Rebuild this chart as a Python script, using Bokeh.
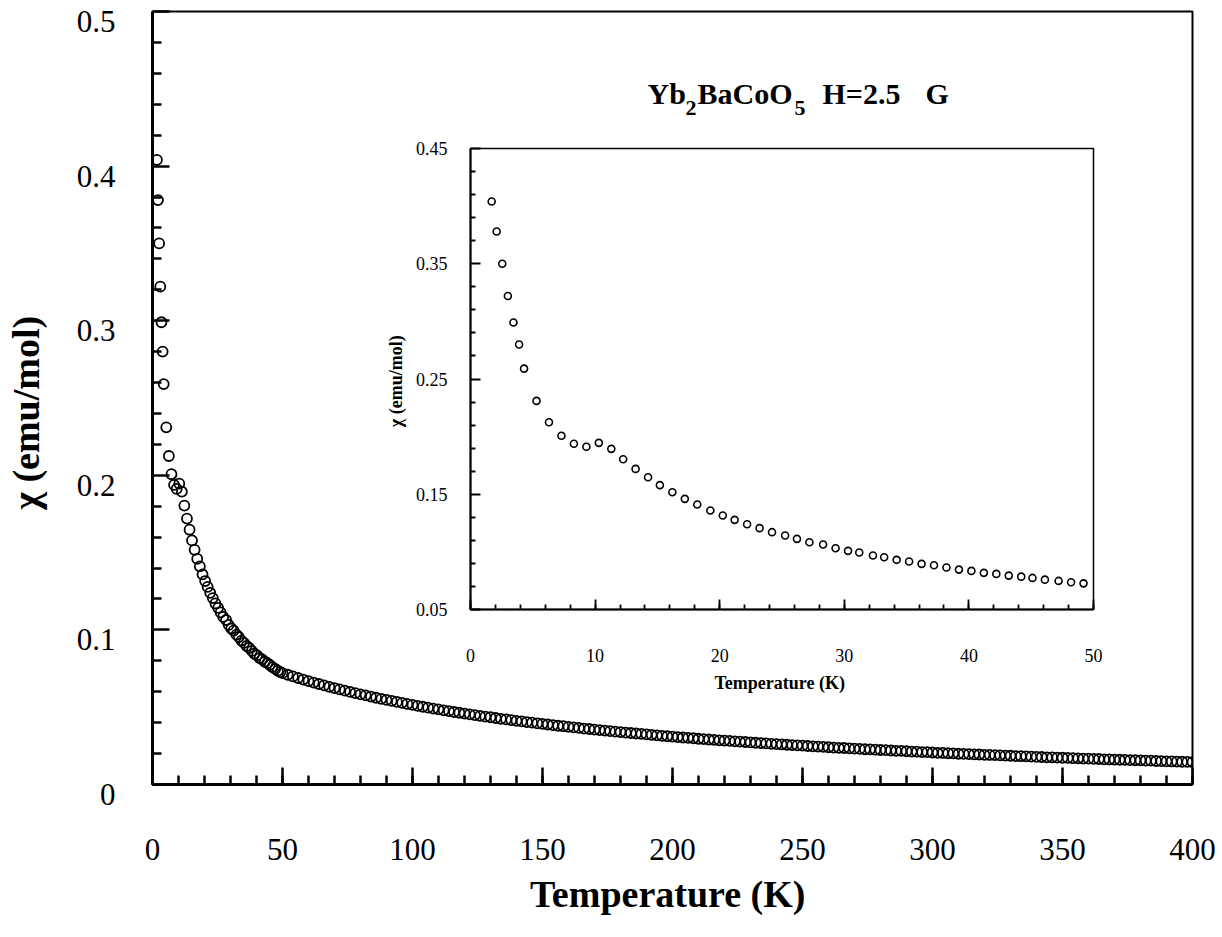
from bokeh.plotting import figure
from bokeh.models import FixedTicker, Label, Range1d
from bokeh.layouts import column
from bokeh.embed import file_html
from bokeh.resources import INLINE

FONT = "Liberation Serif"

# ---- data ----
# low-temperature points (shown in both the inset and the main panel)
temp_low = [1.7, 2.1, 2.55, 3.0, 3.45, 3.9, 4.3, 5.3, 6.3, 7.3, 8.3, 9.3, 10.3, 11.3,
            12.25, 13.25, 14.25, 15.2, 16.2, 17.2, 18.2, 19.25, 20.25, 21.2, 22.2,
            23.2, 24.2, 25.25, 26.2, 27.2, 28.3, 29.3, 30.3, 31.2, 32.3, 33.2, 34.2,
            35.2, 36.2, 37.2, 38.2, 39.2, 40.2, 41.2, 42.2, 43.2, 44.2, 45.1, 46.1,
            47.2, 48.2, 49.2]
chi_low = [0.404, 0.378, 0.350, 0.322, 0.299, 0.280, 0.259, 0.231, 0.2125, 0.2007,
           0.1938, 0.1912, 0.1946, 0.1894, 0.1804, 0.1720, 0.1648, 0.1579, 0.1518,
           0.1460, 0.1411, 0.1359, 0.1316, 0.1278, 0.1240, 0.1206, 0.1171, 0.1142,
           0.1113, 0.1084, 0.1064, 0.1032, 0.1009, 0.0995, 0.0969, 0.0954, 0.0931,
           0.0916, 0.0896, 0.0884, 0.0864, 0.0846, 0.0835, 0.0818, 0.0809, 0.0794,
           0.0785, 0.0774, 0.0759, 0.0748, 0.0736, 0.0727]

# high-temperature points of the main panel (50 K .. 400 K, every 2 K)
temp_high = list(range(50, 401, 2))
chi_high = [
    0.0720, 0.0710, 0.0699, 0.0689, 0.0679, 0.0669, 0.0659, 0.0650, 0.0641, 0.0632,
    0.0624, 0.0615, 0.0607, 0.0599, 0.0591, 0.0583, 0.0576, 0.0569, 0.0561, 0.0554,
    0.0547, 0.0541, 0.0534, 0.0528, 0.0521, 0.0515, 0.0509, 0.0503, 0.0497, 0.0491,
    0.0486, 0.0480, 0.0475, 0.0469, 0.0464, 0.0459, 0.0454, 0.0449, 0.0444, 0.0439,
    0.0435, 0.0430, 0.0425, 0.0421, 0.0417, 0.0412, 0.0408, 0.0404, 0.0400, 0.0396,
    0.0392, 0.0388, 0.0384, 0.0380, 0.0377, 0.0373, 0.0369, 0.0366, 0.0362, 0.0359,
    0.0355, 0.0352, 0.0349, 0.0345, 0.0342, 0.0339, 0.0336, 0.0333, 0.0330, 0.0327,
    0.0324, 0.0321, 0.0318, 0.0315, 0.0312, 0.0310, 0.0307, 0.0304, 0.0302, 0.0299,
    0.0296, 0.0294, 0.0291, 0.0289, 0.0286, 0.0284, 0.0282, 0.0279, 0.0277, 0.0275,
    0.0272, 0.0270, 0.0268, 0.0266, 0.0263, 0.0261, 0.0259, 0.0257, 0.0255, 0.0253,
    0.0251, 0.0249, 0.0247, 0.0245, 0.0243, 0.0241, 0.0239, 0.0237, 0.0236, 0.0234,
    0.0232, 0.0230, 0.0228, 0.0227, 0.0225, 0.0223, 0.0222, 0.0220, 0.0218, 0.0217,
    0.0215, 0.0213, 0.0212, 0.0210, 0.0209, 0.0207, 0.0205, 0.0204, 0.0202, 0.0201,
    0.0199, 0.0198, 0.0197, 0.0195, 0.0194, 0.0192, 0.0191, 0.0190, 0.0188, 0.0187,
    0.0186, 0.0184, 0.0183, 0.0182, 0.0180, 0.0179, 0.0178, 0.0176, 0.0175, 0.0174,
    0.0173, 0.0172, 0.0170, 0.0169, 0.0168, 0.0167, 0.0166, 0.0165, 0.0163, 0.0162,
    0.0161, 0.0160, 0.0159, 0.0158, 0.0157, 0.0156, 0.0155, 0.0154, 0.0152, 0.0151,
    0.0150, 0.0149, 0.0148, 0.0147, 0.0146, 0.0145]

# ticks / labels
main_x_ticks = [0, 50, 100, 150, 200, 250, 300, 350, 400]
main_x_labels = ["0", "50", "100", "150", "200", "250", "300", "350", "400"]
main_x_minor = list(range(0, 401, 10))
main_y_ticks = [0, 0.1, 0.2, 0.3, 0.4, 0.5]
main_y_labels = ["0", "0.1", "0.2", "0.3", "0.4", "0.5"]
main_y_minor = [0.02, 0.04, 0.06, 0.08, 0.12, 0.14, 0.16, 0.18, 0.22, 0.24, 0.26, 0.28,
                0.32, 0.34, 0.36, 0.38, 0.42, 0.44, 0.46, 0.48]

ins_x_ticks = [0, 10, 20, 30, 40, 50]
ins_x_labels = ["0", "10", "20", "30", "40", "50"]
ins_x_minor = list(range(0, 51, 2))
ins_y_ticks = [0.05, 0.15, 0.25, 0.35, 0.45]
ins_y_labels = ["0.05", "0.15", "0.25", "0.35", "0.45"]
ins_y_minor = [0.07, 0.09, 0.11, 0.13, 0.17, 0.19, 0.21, 0.23, 0.27, 0.29, 0.31, 0.33,
               0.37, 0.39, 0.41, 0.43]

x_title = "Temperature  (K)"
y_title = "\u03c7  (emu/mol)"

W, H = 1222, 937


def style_axis(ax, line_w, tick_w, major_in, minor_in, lab_size, title_size):
    ax.axis_line_width = line_w
    ax.axis_line_color = "black"
    ax.major_tick_line_width = tick_w
    ax.minor_tick_line_width = tick_w
    ax.major_tick_line_color = "black"
    ax.minor_tick_line_color = "black"
    ax.major_tick_out = 0
    ax.minor_tick_out = 0
    ax.major_tick_in = major_in
    ax.minor_tick_in = minor_in
    ax.major_label_text_font = FONT
    ax.major_label_text_font_size = lab_size
    ax.major_label_text_color = "black"
    ax.axis_label_text_font = FONT
    ax.axis_label_text_font_style = "bold"
    ax.axis_label_text_font_size = title_size
    ax.axis_label_text_color = "black"


def clear_fig(f):
    f.xgrid.visible = False
    f.ygrid.visible = False


# ---- main panel ----
p = figure(width=W, height=H, x_range=Range1d(0, 400), y_range=Range1d(0, 0.5),
           output_backend="svg", toolbar_location=None,
           min_border_left=152, min_border_right=30, min_border_top=11,
           min_border_bottom=153)
clear_fig(p)
p.outline_line_color = "black"
p.outline_line_width = 2
p.background_fill_color = "white"
p.border_fill_color = "white"

p.scatter(temp_low + temp_high, chi_low + chi_high, marker="circle", size=10,
          fill_color=None, line_color="black", line_width=1.8)

xa = p.xaxis[0]
xa.ticker = FixedTicker(ticks=main_x_ticks, minor_ticks=main_x_minor)
xa.major_label_overrides = dict(zip(main_x_ticks, main_x_labels))
ya = p.yaxis[0]
ya.ticker = FixedTicker(ticks=main_y_ticks, minor_ticks=main_y_minor)
style_axis(xa, 3, 2.5, 17, 9, "31px", "38px")
style_axis(ya, 3, 2.5, 17, 9, "31px", "38px")
ya.major_label_text_color = None   # labels come from the overlay below
ya.major_label_standoff = 0
xa.axis_label = x_title
xa.major_label_standoff = 54
xa.axis_label_standoff = 10

# title with subscripts (pieces)
title_font = "30px"
sub_font = "22px"
pieces = [
    ("Yb", 190.4, 0.4470, title_font),
    ("2", 205.0, 0.4375, sub_font),
    ("BaCoO", 209.6, 0.4470, title_font),
    ("5", 246.9, 0.4375, sub_font),
    ("H=2.5", 257.7, 0.4470, title_font),
    ("G", 297.3, 0.4470, title_font),
]
for txt, tx, ty, fs in pieces:
    p.add_layout(Label(x=tx, y=ty, text=txt, text_font=FONT, text_font_style="bold",
                       text_font_size=fs, text_color="black",
                       text_align="left", text_baseline="alphabetic"))

# ---- inset (transparent figure laid over the main panel) ----
# the column aligns left/right borders with the main panel (152 / 30 px)
q = figure(width=805, height=574, x_range=Range1d(0, 50), y_range=Range1d(0.05, 0.45),
           output_backend="svg", toolbar_location=None,
           min_border_left=90, min_border_right=20, min_border_top=13,
           min_border_bottom=100)
clear_fig(q)
q.outline_line_color = "black"
q.outline_line_width = 1.5
q.background_fill_alpha = 0
q.border_fill_alpha = 0

q.scatter(temp_low, chi_low, marker="circle", size=7, fill_color=None,
          line_color="black", line_width=1.6)

qx = q.xaxis[0]
qx.ticker = FixedTicker(ticks=ins_x_ticks, minor_ticks=ins_x_minor)
qx.major_label_overrides = dict(zip(ins_x_ticks, ins_x_labels))
qy = q.yaxis[0]
qy.ticker = FixedTicker(ticks=ins_y_ticks, minor_ticks=ins_y_minor)
qy.major_label_overrides = dict(zip(ins_y_ticks, ins_y_labels))
style_axis(qx, 2, 1.8, 10, 5, "18px", "18px")
style_axis(qy, 2, 1.8, 10, 5, "18px", "18px")
qx.axis_label = x_title
qy.axis_label = y_title
qx.major_label_standoff = 39
qx.axis_label_standoff = 8
qy.major_label_standoff = 23
qy.axis_label_standoff = 7

# ---- overlay carrying the main y tick labels and title ----
# same frame as the main panel, shifted 10 px down (labels sit below their ticks)
r = figure(width=W, height=H, x_range=Range1d(0, 400), y_range=Range1d(0, 0.5),
           output_backend="svg", toolbar_location=None,
           min_border_left=152, min_border_right=30, min_border_top=21,
           min_border_bottom=143)
clear_fig(r)
r.outline_line_color = None
r.background_fill_alpha = 0
r.border_fill_alpha = 0
r.xaxis.visible = False
ra = r.yaxis[0]
ra.ticker = FixedTicker(ticks=main_y_ticks)
ra.major_label_overrides = dict(zip(main_y_ticks, main_y_labels))
style_axis(ra, 3, 2.5, 0, 0, "31px", "38px")
ra.axis_line_color = None
ra.major_tick_line_color = None
ra.minor_tick_line_color = None
ra.major_label_standoff = 37
ra.axis_label = y_title
ra.axis_label_standoff = 27

q.margin = (135 - H, 0, H - (135 + 574), 318)
r.margin = (-H, 0, 0, 0)
p.margin = 0

layout = column(p, q, r)
layout.margin = 0

html = file_html(layout, INLINE)
open("out.html", "w").write(html)
